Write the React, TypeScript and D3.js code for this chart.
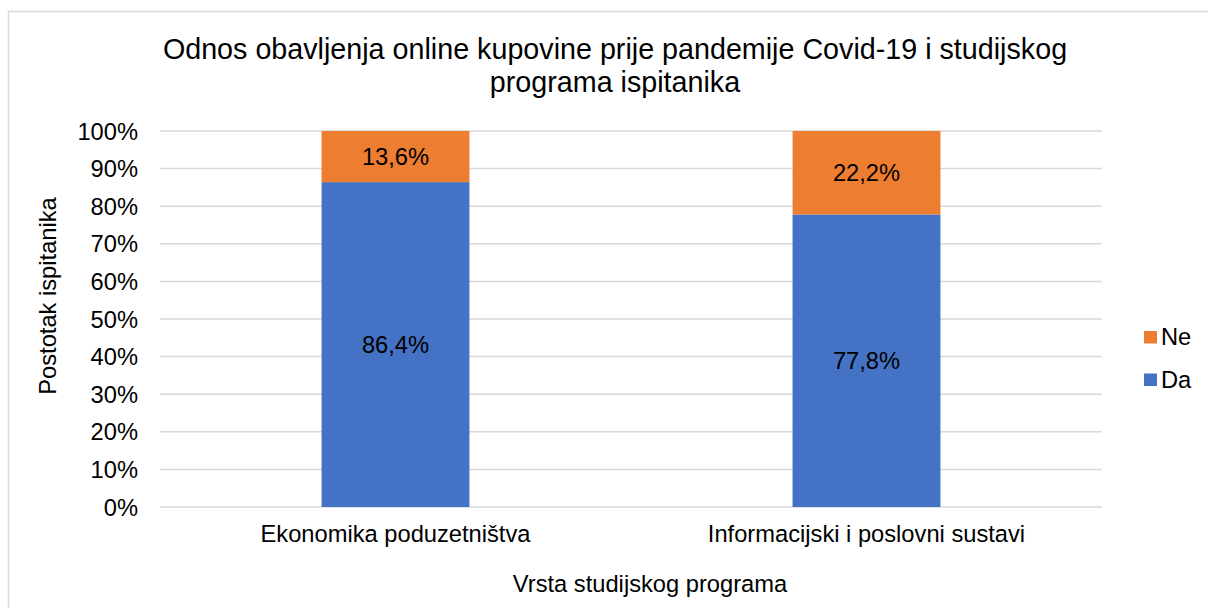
import React from "react";
import * as d3 from "d3";

const categories = ["Ekonomika poduzetništva", "Informacijski i poslovni sustavi"];
const da = [86.4, 77.8];
const ne = [13.6, 22.2];
const yTicks = [0, 10, 20, 30, 40, 50, 60, 70, 80, 90, 100];
const titleLines = [
  "Odnos obavljenja online kupovine prije pandemije Covid-19 i studijskog",
  "programa ispitanika",
];
const colors = { Da: "#4472C4", Ne: "#ED7D31" };

export default function App() {
  const W = 1208, H = 608;
  const left = 160, right = 1102, top = 131, bottom = 507;
  const x = d3.scaleBand<string>().domain(categories).range([left, right]).paddingInner(0.686).paddingOuter(0.343);
  const y = d3.scaleLinear().domain([0, 100]).range([bottom, top]);
  const font = "'Liberation Sans', Arial, sans-serif";
  const fmt = (v: number) => v.toFixed(1).replace(".", ",") + "%";
  const fs = 23.7;

  return (
    <svg width={W} height={H} style={{ position: "absolute", left: 0, top: 0 }} fontFamily={font}>
      <rect x={0} y={0} width={W} height={H} fill="#fff" />
      <rect x={8.5} y={11.5} width={1220} height={700} fill="none" stroke="#d9d9d9" strokeWidth={1.5} />
      {titleLines.map((t, i) => (
        <text key={i} x={615} y={59 + i * 33} textAnchor="middle" fontSize={28.7} fill="#000">{t}</text>
      ))}
      {yTicks.map((t) => (
        <g key={t}>
          <line x1={left} x2={right} y1={y(t)} y2={y(t)} stroke="#d9d9d9" strokeWidth={1.5} />
          <text x={138} y={y(t) + 8.5} textAnchor="end" fontSize={fs} fill="#000">{t}%</text>
        </g>
      ))}
      {categories.map((c, i) => {
        const bx = x(c)!;
        const bw = x.bandwidth();
        const cx = bx + bw / 2;
        return (
          <g key={c}>
            <rect x={bx} y={y(da[i])} width={bw} height={y(0) - y(da[i])} fill={colors.Da} />
            <rect x={bx} y={y(da[i] + ne[i])} width={bw} height={y(da[i]) - y(da[i] + ne[i])} fill={colors.Ne} />
            <text x={cx} y={(y(0) + y(da[i])) / 2 + 8.5} textAnchor="middle" fontSize={fs} fill="#000">{fmt(da[i])}</text>
            <text x={cx} y={(y(da[i]) + y(da[i] + ne[i])) / 2 + 8.5} textAnchor="middle" fontSize={fs} fill="#000">{fmt(ne[i])}</text>
            <text x={cx} y={542} textAnchor="middle" fontSize={fs} fill="#000">{c}</text>
          </g>
        );
      })}
      <text x={650} y={592} textAnchor="middle" fontSize={fs} fill="#000">Vrsta studijskog programa</text>
      <text transform={`translate(56,296) rotate(-90)`} textAnchor="middle" fontSize={fs} fill="#000">Postotak ispitanika</text>
      {["Ne", "Da"].map((s, i) => (
        <g key={s}>
          <rect x={1144} y={331 + i * 42.5} width={13} height={12.5} fill={colors[s as "Ne" | "Da"]} />
          <text x={1161} y={345 + i * 42.5} fontSize={fs} fill="#000">{s}</text>
        </g>
      ))}
    </svg>
  );
}
